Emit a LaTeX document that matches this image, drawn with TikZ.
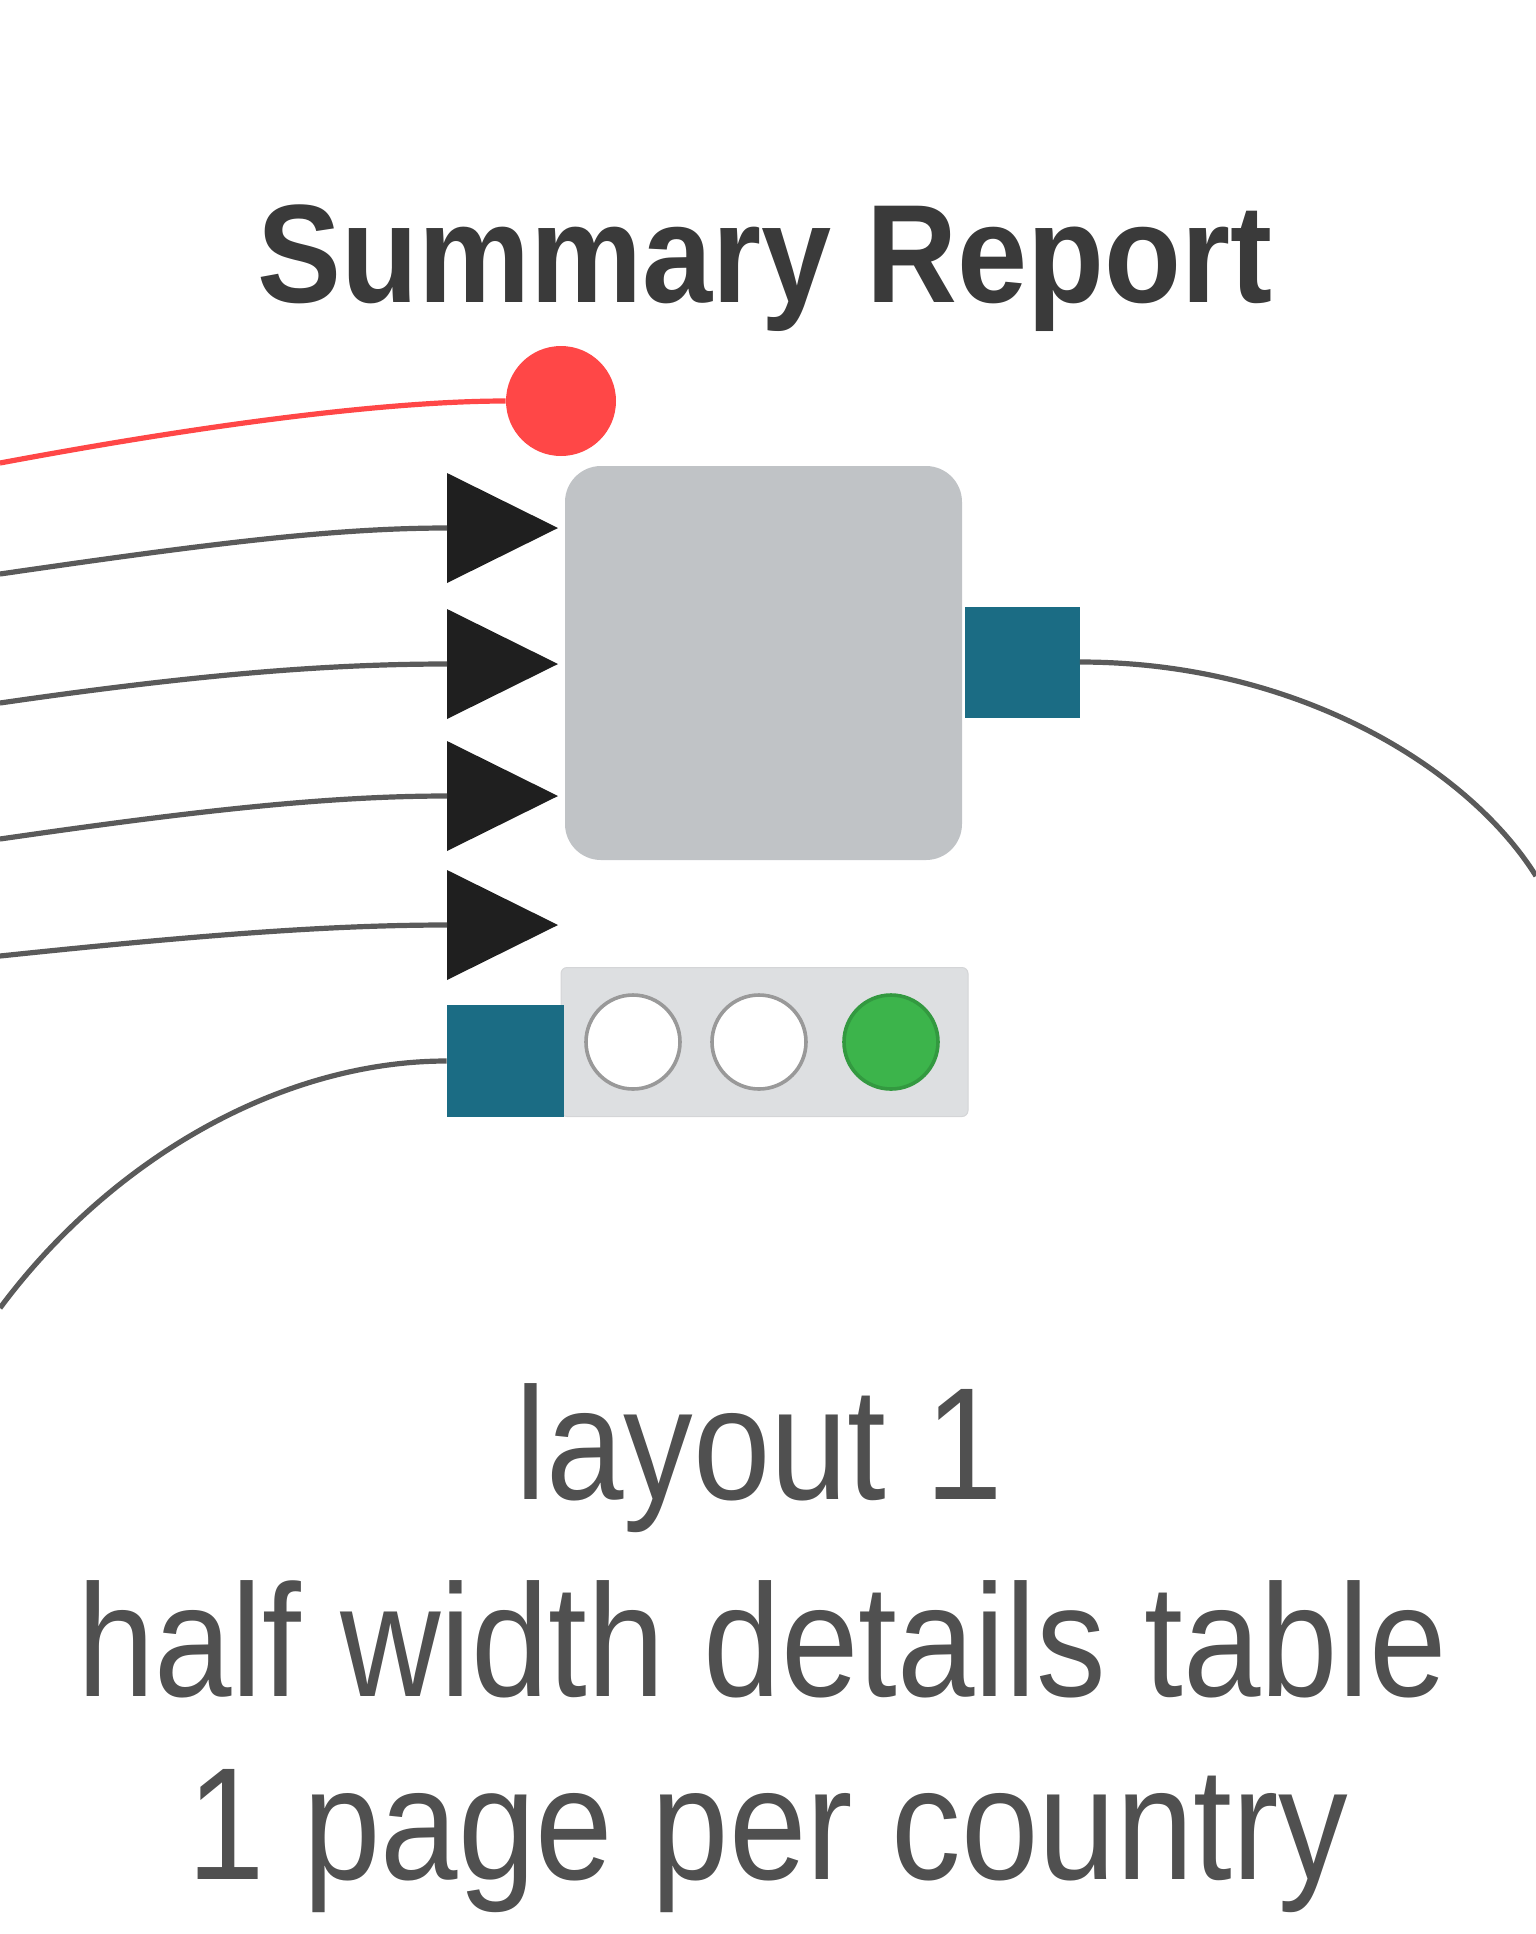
\documentclass[tikz,border=0pt]{standalone}
\usepackage{fontspec}
\setmainfont[FakeStretch=0.87]{Liberation Sans}
\newfontfamily\titlefont[FakeStretch=0.9]{Liberation Sans Bold}
\definecolor{nodegray}{HTML}{C0C3C6}
\definecolor{teal}{HTML}{1B6C84}
\definecolor{portred}{HTML}{FF4747}
\definecolor{okgreen}{HTML}{3CB44B}
\definecolor{barfill}{HTML}{DDDFE1}
\definecolor{wire}{HTML}{5A5A5A}
\definecolor{txt}{HTML}{505050}
\definecolor{titletxt}{HTML}{3A3A3A}
\begin{document}
\begin{tikzpicture}[x=0.5pt,y=-0.5pt,
  wirestyle/.style={draw=wire,line width=2.6pt},
  flowstyle/.style={draw=portred,line width=2.6pt},
  lamp/.style={circle,draw=gray!80,line width=1.8pt,fill=white,inner sep=0pt,minimum size=47pt},
  bottomtxt/.style={text=txt,font=\fontsize{80}{96}\selectfont,anchor=base,inner sep=0pt}]
\useasboundingbox (0,0) rectangle (1536,1934);

% main node body
\node[fill=nodegray,rounded corners=18pt,minimum width=198.5pt,minimum height=197pt,inner sep=0pt] (body) at (763.5,663) {};
% output port
\node[fill=teal,inner sep=0pt,minimum width=57.5pt,minimum height=55.5pt] (outp) at (1022,662) {};
% status bar
\node[fill=barfill,draw=barfill!90!gray,line width=0.5pt,rounded corners=3pt,minimum width=203.5pt,minimum height=74.5pt,inner sep=0pt] (bar) at (764.5,1042) {};
\node[lamp] (l1) at (633,1042) {};
\node[lamp] (l2) at (759,1042) {};
\node[lamp,fill=okgreen,draw=okgreen!85!black] (l3) at (891,1042) {};
% bottom-left model port
\node[fill=teal,inner sep=0pt,minimum width=58.5pt,minimum height=56pt] (modp) at (505.5,1061) {};
% flow variable port
\node[circle,fill=portred,inner sep=0pt,minimum size=55pt] (flow) at (561,401) {};

% input triangles
\foreach \i/\y in {1/528,2/664,3/796,4/925}{
  \fill[black!88] (447,\y-55) -- (558,\y) -- (447,\y+55) -- cycle;
  \coordinate (in\i) at (447,\y);
}

% off-picture ends
\coordinate (eflow) at (0,463);
\coordinate (e1) at (0,574);
\coordinate (e2) at (0,703);
\coordinate (e3) at (0,839);
\coordinate (e4) at (0,956);
\coordinate (eout) at (1536,876);
\coordinate (emod) at (0,1308);

\draw[flowstyle] (eflow) .. controls (230,420) and (400,401) .. (flow.west);
\draw[wirestyle] (e1) .. controls (200,545) and (330,528) .. (in1);
\draw[wirestyle] (e2) .. controls (200,674) and (330,664) .. (in2);
\draw[wirestyle] (e3) .. controls (200,810) and (330,796) .. (in3);
\draw[wirestyle] (e4) .. controls (200,935) and (330,925) .. (in4);
\draw[wirestyle] (outp.east) .. controls (1300,662) and (1470,770) .. (eout);
\draw[wirestyle] (modp.west) .. controls (280,1061) and (110,1160) .. (emod);

% texts
\node[text=titletxt,font=\titlefont\fontsize{70}{84}\selectfont,anchor=base,inner sep=0pt] (title) at (765,302) {Summary Report};
\node[bottomtxt] (t1) at (759,1499) {layout 1};
\node[bottomtxt] (t2) at (762,1696) {half width details table};
\node[bottomtxt] (t3) at (768,1879) {1 page per country};
\end{tikzpicture}
\end{document}
